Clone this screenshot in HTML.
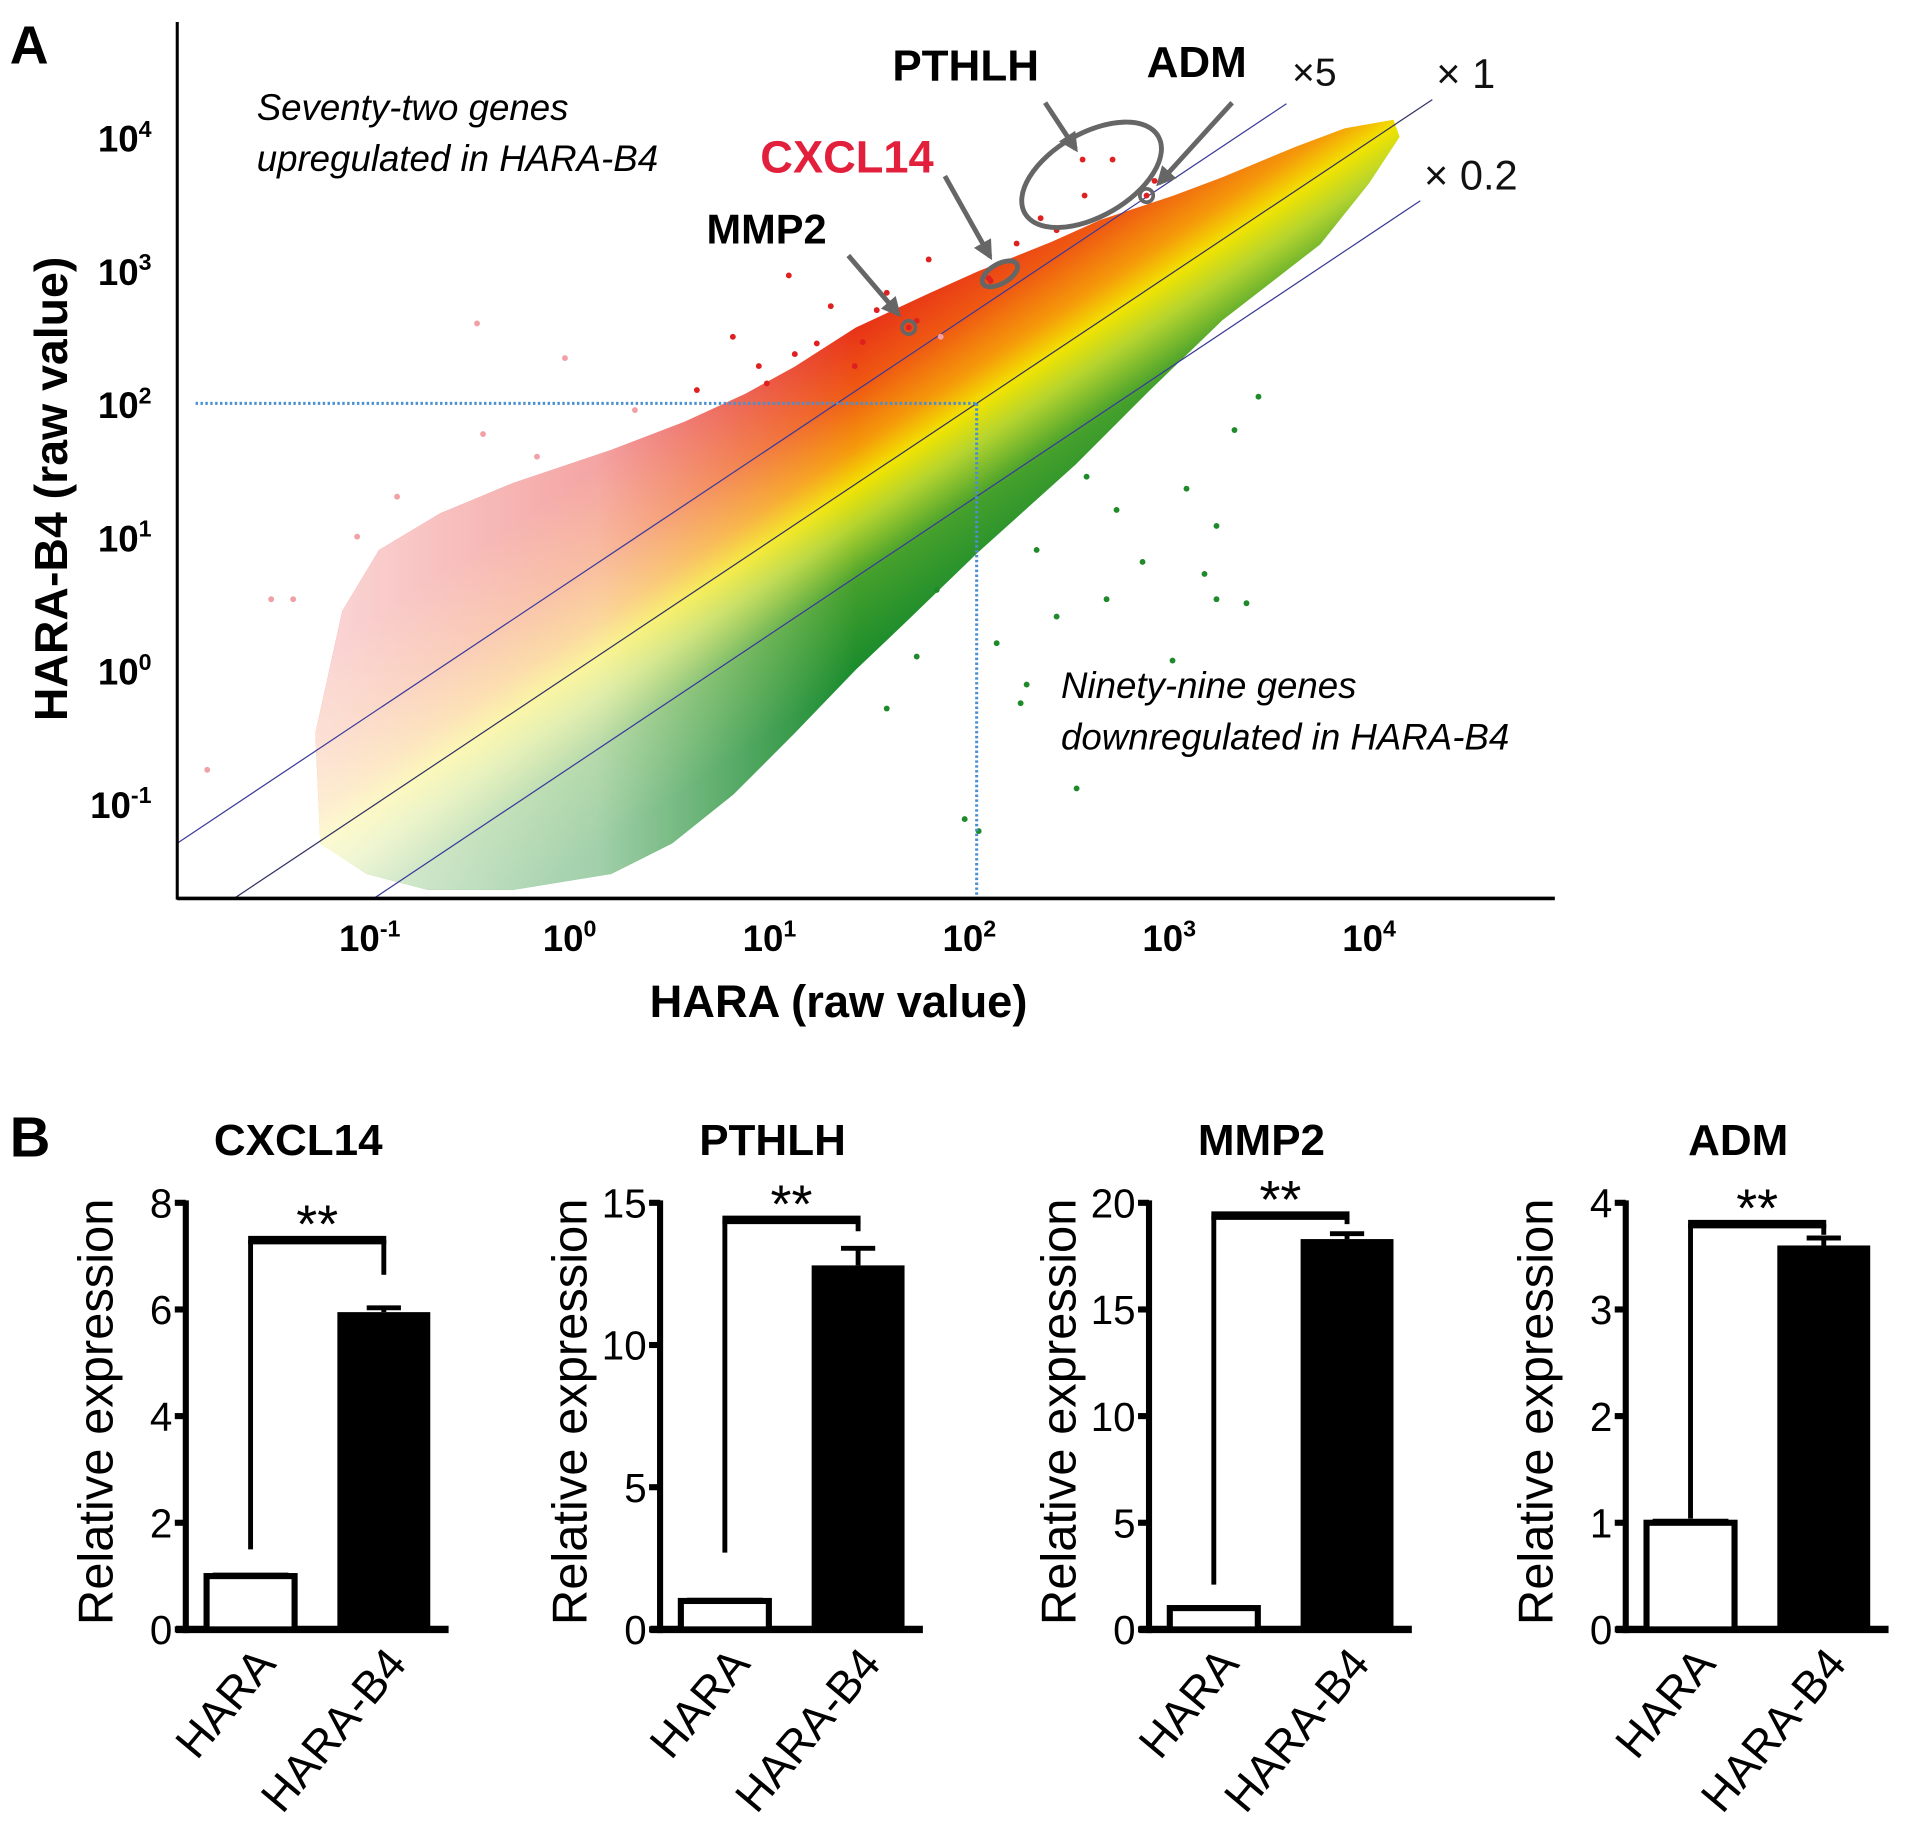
<!DOCTYPE html>
<html><head><meta charset="utf-8"><style>
html,body{margin:0;padding:0;background:#fff;}
svg{display:block;font-family:"Liberation Sans",sans-serif;}
</style></head><body>
<svg id="fig" width="1913" height="1825" viewBox="0 0 1565 1493" xmlns="http://www.w3.org/2000/svg">
<defs>
<linearGradient id="bandGrad" gradientUnits="userSpaceOnUse" x1="728" y1="223" x2="872" y2="439">
<stop offset="0" stop-color="#e41e1a"/><stop offset="0.25" stop-color="#ef5a12"/><stop offset="0.4" stop-color="#f59a0a"/>
<stop offset="0.5" stop-color="#f2e400"/><stop offset="0.6" stop-color="#b5d42e"/><stop offset="0.75" stop-color="#45a02c"/><stop offset="1" stop-color="#178a2c"/>
</linearGradient>
<linearGradient id="fadeGrad" gradientUnits="userSpaceOnUse" x1="230" y1="0" x2="700" y2="0">
<stop offset="0" stop-color="#fff" stop-opacity="0.85"/><stop offset="0.55" stop-color="#fff" stop-opacity="0.6"/><stop offset="1" stop-color="#fff" stop-opacity="0"/>
</linearGradient>
<marker id="arr" viewBox="0 0 10 10" refX="8" refY="5" markerWidth="4" markerHeight="4" orient="auto"><path d="M0,0 L10,5 L0,10 z" fill="#666"/></marker>
</defs>
<g id="panelA"></g>
<g id="panelB"></g>
</svg>
<script>
// ---------- Panel A data (log10 values) ----------
const xTickExps = [-1, 0, 1, 2, 3, 4];
const yTickExps = [-1, 0, 1, 2, 3, 4];
const upLogX = [2.53,2.68,2.89,2.32,2.54,1.76,2.07,1.55,1.70,1.82,1.27,1.06,0.78,1.09,1.39,1.43,0.91,1.66,2.06,2.85,-0.50,-0.06,-0.47,0.29,-1.42,-1.53,-1.85,0.60,0.95,1.20,1.50,2.20,2.40,-0.90,-1.10,-0.20];
const upLogY = [3.83,3.83,3.67,3.39,3.56,3.08,2.92,2.83,2.62,2.50,2.73,2.96,2.50,2.37,2.28,2.46,2.28,2.57,2.94,3.56,2.60,2.34,1.77,1.95,0.53,0.53,-0.75,2.10,2.15,2.45,2.70,3.20,3.30,1.30,1.00,1.60];
const downLogX = [3.41,3.29,3.05,3.20,3.14,2.83,3.35,3.20,2.98,2.50,2.22,2.25,1.55,2.01,1.94,2.65,2.40,2.70,1.80,2.10,2.30,2.55,1.70];
const downLogY = [2.05,1.80,1.36,1.08,0.72,0.81,0.50,0.53,0.07,-0.89,-0.25,-0.11,-0.29,-1.21,-1.12,0.53,0.40,1.20,0.60,0.20,0.90,1.45,0.10];
const foldLines = [5, 1, 0.2];
const foldLabels = ["×5", "× 1", "× 0.2"];

// ---------- Panel B data ----------
const genes = ["CXCL14","PTHLH","MMP2","ADM"];
const groups = ["HARA","HARA-B4"];
const haraVals = [1.0, 1.0, 1.0, 1.0];
const b4Vals = [5.95, 12.8, 18.3, 3.6];
const haraErr = [0.03, 0.05, 0.05, 0.02];
const b4Err = [0.08, 0.6, 0.25, 0.07];
const yMaxes = [8, 15, 20, 4];
const yTickSteps = [2, 5, 5, 1];
const bracketY = [7.3, 14.4, 19.4, 3.8];
const bracketLeftEnd = [1.5, 2.7, 2.1, 1.04];
const bracketRightEnd = [6.65, 14.0, 19.0, 3.7];

const NS = "http://www.w3.org/2000/svg";
function mk(tag, attrs, parent, text){
  const e = document.createElementNS(NS, tag);
  for (const k in attrs) e.setAttribute(k, attrs[k]);
  if (text !== undefined) e.textContent = text;
  parent.appendChild(e); return e;
}
// ---------- Panel A ----------
const A = document.getElementById('panelA');
const sx = lx => 472 + lx * 163.5;
const sy = ly => 548 - ly * 109;

const bandPts = "300,715 262,690 258,600 280,500 310,450 360,420 420,395 500,368 560,345 610,322 650,300 700,268 760,240 800,222 860,198 900,180 960,160 1000,145 1060,120 1100,105 1140,98 1145,112 1120,150 1080,200 1000,262 940,320 880,380 800,452 740,510 700,548 650,600 600,650 550,690 500,715 420,728 350,728";
const band = mk('polygon', {points: bandPts, fill: 'url(#bandGrad)'}, A);


const fade = mk('polygon', {points: bandPts, fill: 'url(#fadeGrad)'}, A);



const lnMin = -2.0, lnMax = 4.25;
foldLines.forEach((f, i) => {
  const lf = Math.log10(f);
  let x0 = (145 - 472) / 163.5;
  if (sy(x0 + lf) > 735) x0 = (548 - 735) / 109 - lf;
  const xe = i === 0 ? 3.55 : (i === 1 ? 4.28 : 4.22);
  const l = mk('line', {x1: sx(x0), y1: sy(x0 + lf), x2: sx(xe), y2: sy(xe + lf), stroke: i===1 ? '#333366' : '#3a3a9a', 'stroke-width': 1}, A);
  
  
});
const fl = [[1057,70,32],[1175,72,34],[1165,155,34]];
foldLabels.forEach((t, i) => {
  const e = mk('text', {x: fl[i][0], y: fl[i][1], 'font-size': fl[i][2], fill: '#111'}, A, t);
  
  
});

upLogX.forEach((lx, i) => {
  const ly = upLogY[i];
  const c = mk('circle', {cx: sx(lx), cy: sy(ly), r: 2.4, fill: ly - lx > 0.69 && lx > 0.5 ? '#e02020' : '#f2a0a8'}, A);
  
  
});
downLogX.forEach((lx, i) => {
  const c = mk('circle', {cx: sx(lx), cy: sy(downLogY[i]), r: 2.4, fill: '#1f8a2a'}, A);
  
  
});

let d1 = mk('line', {x1: 160, y1: sy(2), x2: sx(2), y2: sy(2), stroke: '#4a90d0', 'stroke-width': 2.5, 'stroke-dasharray': '2,2'}, A);
 
let d2 = mk('line', {x1: sx(2), y1: sy(2), x2: sx(2), y2: 735, stroke: '#4a90d0', 'stroke-width': 2.5, 'stroke-dasharray': '2,2'}, A);
 

let ax = mk('line', {x1: 145, y1: 735, x2: 1272, y2: 735, stroke: '#000', 'stroke-width': 3}, A);
 
let ay = mk('line', {x1: 145, y1: 18, x2: 145, y2: 736, stroke: '#000', 'stroke-width': 2.5}, A);
 
xTickExps.forEach(e => {
  const t = mk('text', {x: sx(e) - 6, y: 778, 'font-size': 30, 'font-weight': 'bold', 'text-anchor': 'middle'}, A);
   
  mk('tspan', {}, t, '10');
  mk('tspan', {dy: -12, 'font-size': 19}, t, String(e));
});
yTickExps.forEach(e => {
  const t = mk('text', {x: 124, y: sy(e) + 12, 'font-size': 30, 'font-weight': 'bold', 'text-anchor': 'end'}, A);
   
  mk('tspan', {}, t, '10');
  mk('tspan', {dy: -12, 'font-size': 19}, t, String(e));
});
function txt(x, y, s, attrs, name){
  const e = mk('text', Object.assign({x: x, y: y}, attrs), A, s);
    return e;
}
txt(8, 52, 'A', {'font-size': 44, 'font-weight': 'bold'}, 'panel-a-label');
txt(686, 832, 'HARA (raw value)', {'font-size': 37, 'font-weight': 'bold', 'text-anchor': 'middle'}, 'x-axis-title');
txt(0, 0, 'HARA-B4 (raw value)', {'font-size': 38, 'font-weight': 'bold', 'text-anchor': 'middle', transform: 'translate(55,400) rotate(-90)'}, 'y-axis-title');
txt(210, 98, 'Seventy-two genes', {'font-size': 30, 'font-style': 'italic'}, 'upregulated-note-1');
txt(210, 140, 'upregulated in HARA-B4', {'font-size': 30, 'font-style': 'italic'}, 'upregulated-note-2');
txt(868, 571, 'Ninety-nine genes', {'font-size': 30, 'font-style': 'italic'}, 'downregulated-note-1');
txt(868, 613, 'downregulated in HARA-B4', {'font-size': 30, 'font-style': 'italic'}, 'downregulated-note-2');
txt(730, 66, 'PTHLH', {'font-size': 36, 'font-weight': 'bold'}, 'pthlh-label');
txt(938, 63, 'ADM', {'font-size': 36, 'font-weight': 'bold'}, 'adm-label');
txt(622, 141, 'CXCL14', {'font-size': 37, 'font-weight': 'bold', fill: '#e3203c'}, 'cxcl14-label');
txt(578, 199, 'MMP2', {'font-size': 34, 'font-weight': 'bold'}, 'mmp2-label');
let e1 = mk('ellipse', {cx: 893, cy: 143, rx: 63, ry: 34, transform: 'rotate(-30 893 143)', fill: 'none', stroke: '#666', 'stroke-width': 4}, A);
 
let e2 = mk('ellipse', {cx: 818, cy: 224, rx: 16, ry: 8, transform: 'rotate(-30 818 224)', fill: 'none', stroke: '#666', 'stroke-width': 4}, A);
 
let e3 = mk('circle', {cx: sx(1.66), cy: sy(2.57), r: 5.5, fill: 'none', stroke: '#666', 'stroke-width': 3}, A);
 
let e4 = mk('circle', {cx: sx(2.85), cy: sy(3.56), r: 5.5, fill: 'none', stroke: '#666', 'stroke-width': 3}, A);
 
[[855,84,880,122,'pthlh-arrow'],[1008,84,948,150,'adm-arrow'],[773,144,810,210,'cxcl14-arrow'],[694,209,735,257,'mmp2-arrow']].forEach(a => {
  const l = mk('line', {x1: a[0], y1: a[1], x2: a[2], y2: a[3], stroke: '#666', 'stroke-width': 4, 'marker-end': 'url(#arr)'}, A);
   
});

// ---------- Panel B ----------
const B = document.getElementById('panelB');
const bl = mk('text', {x: 8, y: 946, 'font-size': 46, 'font-weight': 'bold'}, B, 'B');
 
const axisXs = [152, 540, 940, 1330];
const y0 = 1333, yTop = 984;
genes.forEach((g, i) => {
  const G = mk('g', {}, B);
  
  
  const axX = axisXs[i];
  const ys = v => y0 - v / yMaxes[i] * (y0 - yTop);
  const ti = mk('text', {x: axX + 92, y: 945, 'font-size': 36, 'font-weight': 'bold', 'text-anchor': 'middle'}, G, g);
   
  const yl = mk('text', {x: 0, y: 0, 'font-size': 40, 'text-anchor': 'middle', transform: 'translate(' + (axX - 60) + ',1155) rotate(-90)'}, G, 'Relative expression');
   
  const ya = mk('line', {x1: axX, y1: yTop - 2, x2: axX, y2: y0 + 3, stroke: '#000', 'stroke-width': 5}, G);
   
  const xa = mk('line', {x1: axX - 8, y1: y0, x2: axX + 215, y2: y0, stroke: '#000', 'stroke-width': 6}, G);
   
  for (let v = 0; v <= yMaxes[i] + 1e-9; v += yTickSteps[i]) {
    const tk = mk('line', {x1: axX - 9, y1: ys(v), x2: axX, y2: ys(v), stroke: '#000', 'stroke-width': 5}, G);
     
    const tl = mk('text', {x: axX - 11, y: ys(v) + 12, 'font-size': 33, 'text-anchor': 'end'}, G, String(v));
     
  }
  const bw = 72;
  const hx = axX + 17, bx = axX + 124;
  const hb = mk('rect', {x: hx, y: ys(haraVals[i]), width: bw, height: y0 - ys(haraVals[i]), fill: '#fff', stroke: '#000', 'stroke-width': 5}, G);
   
  const he = mk('line', {x1: hx + 5, y1: ys(haraVals[i] + haraErr[i]), x2: hx + bw - 5, y2: ys(haraVals[i] + haraErr[i]), stroke: '#000', 'stroke-width': 3}, G);
   
  const bb = mk('rect', {x: bx, y: ys(b4Vals[i]), width: bw + 4, height: y0 - ys(b4Vals[i]), fill: '#000'}, G);
   
  const ev = mk('line', {x1: bx + 38, y1: ys(b4Vals[i]), x2: bx + 38, y2: ys(b4Vals[i] + b4Err[i]), stroke: '#000', 'stroke-width': 4}, G);
   
  const ec = mk('line', {x1: bx + 24, y1: ys(b4Vals[i] + b4Err[i]), x2: bx + 52, y2: ys(b4Vals[i] + b4Err[i]), stroke: '#000', 'stroke-width': 4}, G);
   
  const lx = hx + 36, rx = bx + 38;
  const br = mk('line', {x1: lx - 2, y1: ys(bracketY[i]), x2: rx + 2, y2: ys(bracketY[i]), stroke: '#000', 'stroke-width': 7}, G);
   
  const bL = mk('line', {x1: lx, y1: ys(bracketY[i]), x2: lx, y2: ys(bracketLeftEnd[i]), stroke: '#000', 'stroke-width': 4}, G);
   
  const bR = mk('line', {x1: rx, y1: ys(bracketY[i]), x2: rx, y2: ys(bracketRightEnd[i]), stroke: '#000', 'stroke-width': 4}, G);
   
  const st = mk('text', {x: (lx + rx) / 2, y: ys(bracketY[i]) + 2, 'font-size': 44, 'text-anchor': 'middle'}, G, '**');
   
  [[hx + bw / 2 + 22, groups[0]], [bx + bw / 2 + 22, groups[1]]].forEach(p => {
    const t = mk('text', {x: 0, y: 0, 'font-size': 37, 'text-anchor': 'end', transform: 'translate(' + p[0] + ',1362) rotate(-50)'}, G, p[1]);
     
  });
});
</script>
</body></html>
